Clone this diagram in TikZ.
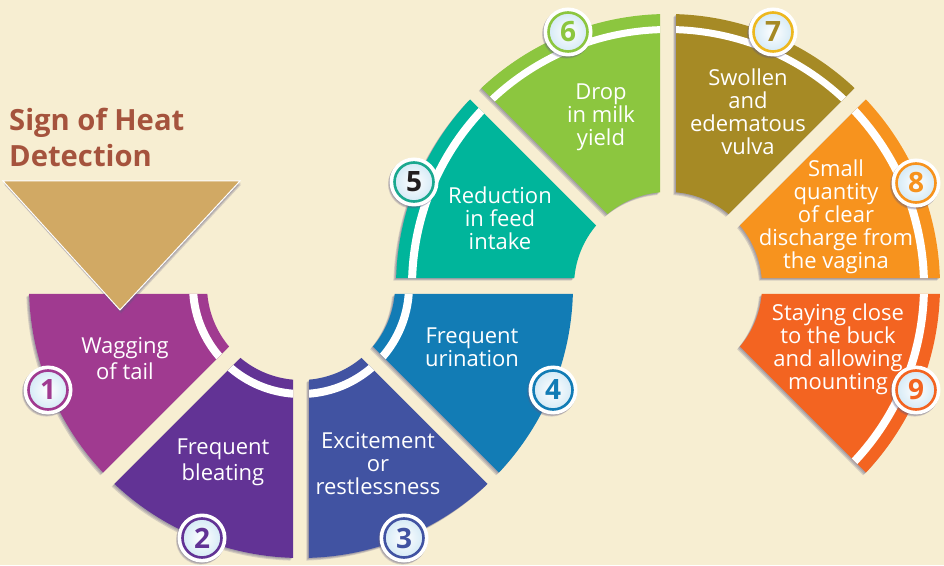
\documentclass[tikz,border=0pt]{standalone}
\usepackage{fontspec}
\setmainfont{Open Sans}
\definecolor{pagebg}{HTML}{F7EED2}
\definecolor{cA}{HTML}{A03A90}
\definecolor{cB}{HTML}{623395}
\definecolor{cC}{HTML}{4153A2}
\definecolor{cD}{HTML}{127CB5}
\definecolor{cE}{HTML}{00B59B}
\definecolor{cF}{HTML}{8CC63F}
\definecolor{cG}{HTML}{A68A25}
\definecolor{cH}{HTML}{F7931E}
\definecolor{cI}{HTML}{F36421}
\definecolor{ringG}{HTML}{EDB81F}
\definecolor{ringE}{HTML}{1AA88F}
\definecolor{digitE}{HTML}{231F20}
\definecolor{triC}{HTML}{D1A964}
\definecolor{titleC}{HTML}{A5533D}
\definecolor{shadowC}{HTML}{5E5A80}
\definecolor{haloC}{HTML}{D5EAF6}
\tikzset{
  sectorlabel/.style={text=white,align=center,inner sep=0pt,font=\fontsize{22}{23}\selectfont},
  badgeouter/.style={circle,fill=white,minimum size=49pt,inner sep=0pt},
  badgeinner/.style={circle,inner color=white,outer color=haloC,line width=2.6pt,minimum size=39pt,inner sep=0pt,font=\fontsize{28}{28}\bfseries\selectfont},
  softshadow/.style={fill=shadowC,fill opacity=.22},
  titletext/.style={text=titleC,anchor=west,align=left,inner sep=0pt,font=\fontsize{29.2}{36}\bfseries\selectfont},
}
% #1 fill style, #2 centre, #3 start angle, #4 end angle, #5 inner radius, #6 outer radius
\newcommand\ringpiece[6]{%
  \pgfmathsetmacro\oa{#3+asin(8/#6)}\pgfmathsetmacro\ob{#4-asin(8/#6)}%
  \pgfmathsetmacro\ia{#3+asin(8/#5)}\pgfmathsetmacro\ib{#4-asin(8/#5)}%
  \fill[#1] ([shift={#2}]\oa:#6) arc[start angle=\oa,end angle=\ob,radius=#6]
  -- ([shift={#2}]\ib:#5) arc[start angle=\ib,end angle=\ia,radius=#5] -- cycle;}
% #1 centre, #2 a1, #3 a2, #4 colour, #5 band inner radius, #6 band outer radius
\newcommand\sector[6]{%
  \foreach \s in {1,2,3}{\ringpiece{softshadow,shift={(-\s*.9,-\s*.9)}}{#1}{#2}{#3}{94}{272}}
  \ringpiece{#4}{#1}{#2}{#3}{94}{272}
  \ringpiece{white}{#1}{#2}{#3}{#5}{#6}}
\newcommand\badge[5]{%
  \foreach \s in {1,2,3}{\fill[softshadow,shift={(-\s*.5,-\s*.7)}] (#2,#3) circle (24.5);}
  \node[badgeouter] (o#1) at (#2,#3) {};
  \node[badgeinner,draw=#4,text=#5] (n#1) at (o#1) {#1};}
\begin{document}
\begin{tikzpicture}[x=1pt,y=1pt]
\useasboundingbox (0,0) rectangle (944,565);
\fill[pagebg] (0,0) rectangle (944,565);
\coordinate (L) at (301,279);
\coordinate (R) at (668,279);
\sector{(L)}{180}{225}{cA}{104}{112}
\sector{(L)}{225}{270}{cB}{104}{112}
\sector{(L)}{270}{315}{cC}{104}{112}
\sector{(L)}{315}{360}{cD}{104}{112}
\sector{(R)}{135}{180}{cE}{252}{260}
\sector{(R)}{90}{135}{cF}{253}{260}
\sector{(R)}{45}{90}{cG}{253}{260}
\sector{(R)}{0}{45}{cH}{252}{260}
\sector{(R)}{315}{360}{cI}{252}{260}
\foreach \s in {1,2,3}{\fill[softshadow,shift={(\s*.4,-\s*1.2)}] (3,384) -- (240,384) -- (120,255) -- cycle;}
\fill[triC,draw=white,line width=1pt] (3,384) -- (240,384) -- (120,255) -- cycle;
\node[titletext] (title) at (9,428) {Sign of Heat\\Detection};
\node[sectorlabel,font=\fontsize{22}{26}\selectfont] (t1) at (125,206) {Wagging\\of tail};
\node[sectorlabel,font=\fontsize{22}{26}\selectfont] (t2) at (223,103) {Frequent\\bleating};
\node[sectorlabel] (t3) at (378,101) {Excitement\\or\\restlessness};
\node[sectorlabel] (t4) at (472,218) {Frequent\\urination};
\node[sectorlabel] (t5) at (500,347) {Reduction\\in feed\\intake};
\node[sectorlabel] (t6) at (601,448) {Drop\\in milk\\yield};
\node[sectorlabel] (t7) at (748,453) {Swollen\\and\\edematous\\vulva};
\node[sectorlabel] (t8) at (836,348) {Small\\quantity\\of clear\\discharge from\\the vagina};
\node[sectorlabel] (t9) at (838,216) {Staying close\\to the buck\\and allowing\\mounting};
\badge{1}{48}{175}{cA}{cA}
\badge{2}{202}{27}{cB}{cB}
\badge{3}{404}{27}{cC}{cC}
\badge{4}{553}{175}{cD}{cD}
\badge{5}{414}{383}{ringE}{digitE}
\badge{6}{568}{533}{cF}{cF}
\badge{7}{773}{533}{ringG}{cG}
\badge{8}{916}{382}{cH}{cH}
\badge{9}{916}{175}{cI}{cI}
\end{tikzpicture}
\end{document}
